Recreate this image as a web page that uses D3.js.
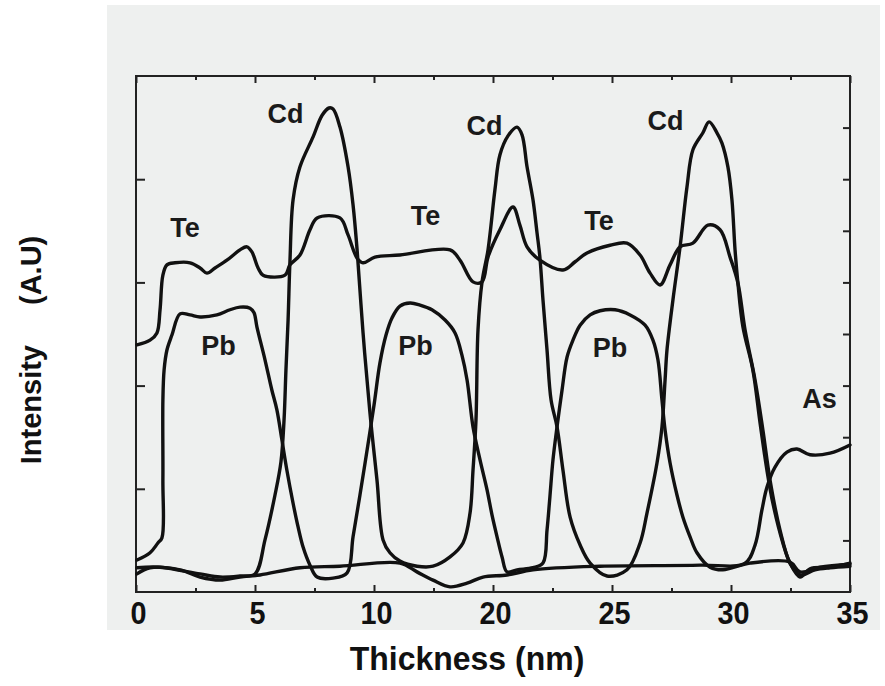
<!DOCTYPE html>
<html>
<head>
<meta charset="utf-8">
<script src="https://cdn.jsdelivr.net/npm/d3@7"></script>
<style>
  html, body { margin: 0; padding: 0; background: #ffffff; }
  svg { display: block; }
</style>
</head>
<body>
<svg id="chart" width="885" height="686"></svg>
<script>
// Depth profile: Thickness (nm) vs intensity (arbitrary units)
const xTickValues = [0, 5, 10, 20, 25, 30, 35];
const xMinorTicks = [2.5, 7.5, 15, 22.5, 27.5, 32.5];
const yLeftTicks = [2, 4, 6, 8];
const yRightTicks = [1, 2, 3, 4, 5, 6, 7, 8, 9];

const teSeries = [[0.04,4.79],[0.59,4.88],[0.88,5.02],[1.01,5.47],[1.13,6.14],[1.30,6.34],[1.64,6.38],[2.27,6.38],[2.69,6.28],[2.98,6.18],[3.32,6.28],[3.82,6.43],[4.37,6.63],[4.66,6.69],[4.87,6.59],[5.13,6.28],[5.34,6.14],[6.26,6.14],[6.47,6.34],[6.89,6.53],[7.31,7.02],[7.61,7.25],[8.57,7.25],[8.91,6.92],[9.29,6.47],[9.54,6.38],[10.08,6.49],[12.18,6.53],[16.39,6.63],[17.23,6.43],[18.32,6.01],[19.08,6.01],[19.58,6.49],[20.29,7.02],[20.84,7.46],[21.13,7.11],[21.43,6.69],[21.97,6.43],[22.94,6.24],[23.45,6.40],[23.95,6.57],[24.92,6.72],[25.63,6.76],[26.18,6.53],[26.60,6.18],[27.02,5.95],[27.44,6.34],[27.86,6.69],[28.40,6.76],[29.03,7.11],[29.54,7.02],[29.96,6.49],[30.29,5.99],[30.59,5.08],[31.01,4.11],[31.34,3.14],[31.64,2.17],[32.06,1.20],[32.48,0.56],[32.90,0.33],[33.53,0.43],[34.16,0.47],[35,0.50]];

const cdSeries = [[0.04,0.47],[1.01,0.48],[2.69,0.35],[3.53,0.29],[4.37,0.31],[5.00,0.35],[5.42,1.01],[5.84,1.88],[6.09,2.52],[6.22,3.33],[6.30,4.30],[6.39,5.27],[6.47,6.43],[6.60,7.60],[6.89,8.24],[7.44,8.82],[7.82,9.24],[8.11,9.38],[8.28,9.36],[8.57,9.01],[8.91,8.24],[9.12,7.50],[9.29,6.63],[9.54,5.02],[9.83,3.47],[10.25,2.17],[10.76,1.01],[11.34,0.76],[12.18,0.60],[13.61,0.50],[14.96,0.50],[16.39,0.68],[17.48,0.95],[18.07,1.53],[18.32,2.36],[18.57,3.33],[18.74,5.08],[19.08,6.01],[19.58,6.63],[20.08,7.79],[20.29,8.47],[20.63,8.84],[21.01,9.01],[21.22,8.86],[21.43,8.24],[21.68,7.60],[21.85,6.96],[21.97,6.49],[22.10,5.66],[22.27,4.69],[22.44,3.72],[22.69,3.20],[22.94,2.36],[23.24,1.45],[23.66,0.91],[24.08,0.56],[24.79,0.31],[25.63,0.43],[26.18,0.95],[26.47,1.53],[26.89,2.50],[27.10,3.20],[27.23,4.11],[27.31,4.69],[27.56,5.66],[27.86,6.69],[28.15,7.85],[28.40,8.57],[28.82,8.90],[29.08,9.11],[29.41,8.90],[29.62,8.70],[29.87,8.24],[30.04,7.60],[30.17,6.63],[30.29,5.99],[30.50,5.14],[30.92,4.30],[31.22,3.28],[31.51,2.36],[31.76,1.72],[32.18,0.95],[32.48,0.56],[32.90,0.29],[33.32,0.45],[34.16,0.48],[35,0.56]];

const pbSeries = [[0.04,0.62],[0.59,0.76],[0.92,0.95],[1.09,1.05],[1.13,2.17],[1.13,3.72],[1.18,4.30],[1.30,4.69],[1.51,4.98],[1.85,5.39],[2.27,5.37],[2.69,5.33],[3.40,5.37],[3.95,5.47],[4.37,5.52],[4.79,5.50],[4.96,5.41],[5.08,5.14],[5.42,4.50],[5.71,3.91],[5.92,3.53],[6.13,2.95],[6.34,2.36],[6.60,1.72],[6.81,1.26],[7.02,0.87],[7.31,0.52],[7.61,0.29],[8.28,0.27],[8.87,0.37],[9.12,1.07],[9.41,1.88],[9.71,2.75],[10.00,3.62],[10.50,4.44],[11.01,4.98],[11.51,5.31],[12.18,5.54],[13.03,5.60],[13.87,5.56],[14.87,5.47],[15.97,5.27],[16.81,5.02],[17.39,4.59],[17.82,4.11],[18.32,3.20],[18.91,2.56],[19.50,1.98],[19.92,1.49],[20.17,1.07],[20.38,0.68],[20.59,0.39],[21.01,0.43],[21.68,0.47],[22.10,0.56],[22.27,1.20],[22.39,1.84],[22.52,2.56],[22.69,3.20],[22.90,3.91],[23.11,4.55],[23.36,4.88],[23.66,5.17],[24.08,5.37],[24.50,5.45],[25.13,5.47],[25.76,5.37],[26.39,5.17],[26.72,4.88],[26.93,4.50],[27.10,3.72],[27.23,3.14],[27.44,2.50],[27.73,1.88],[27.98,1.45],[28.28,1.07],[28.57,0.76],[29.12,0.48],[29.66,0.43],[30.80,0.56],[32.48,0.58],[32.90,0.39],[33.74,0.48],[35,0.54]];

const asSeries = [[0.04,0.35],[0.59,0.47],[1.85,0.43],[2.69,0.29],[3.53,0.23],[4.37,0.29],[5.21,0.33],[6.89,0.47],[8.57,0.50],[12.18,0.56],[13.61,0.39],[14.96,0.23],[16.39,0.10],[17.82,0.17],[19.16,0.29],[20.59,0.33],[21.68,0.43],[24.50,0.50],[28.70,0.52],[30.59,0.56],[31.01,0.91],[31.30,1.59],[31.51,2.03],[31.85,2.42],[32.35,2.71],[32.77,2.77],[33.32,2.66],[34.16,2.69],[35,2.85]];

// Element labels placed in data units (thickness, intensity)
const elementLabels = [
  { text: "Cd", x: 6.28, y: 9.09 },
  { text: "Cd", x: 19.29, y: 8.86 },
  { text: "Cd", x: 27.25, y: 8.95 },
  { text: "Te", x: 2.06, y: 6.88 },
  { text: "Te", x: 14.33, y: 7.11 },
  { text: "Te", x: 24.45, y: 7.02 },
  { text: "Pb", x: 3.47, y: 4.59 },
  { text: "Pb", x: 13.49, y: 4.59 },
  { text: "Pb", x: 24.92, y: 4.55 },
  { text: "As", x: 33.72, y: 3.57 }
];

const svg = d3.select("#chart");
const plot = { left: 136, top: 76, right: 850, bottom: 592 };

// scanned-page panel behind the plot
svg.append("rect").attr("x", 107).attr("y", 5).attr("width", 773).attr("height", 625)
  .attr("fill", "#eef0ef");

// Thickness axis: evenly spaced labelled ticks
const x = d3.scaleLinear()
  .domain(xTickValues)
  .range(xTickValues.map((d, i) => plot.left + i * (plot.right - plot.left) / (xTickValues.length - 1)));
const y = d3.scaleLinear().domain([0, 10]).range([plot.bottom, plot.top]);

const g = svg.append("g");

function styleAxis(sel) {
  sel.select(".domain").remove();
  sel.selectAll(".tick line").attr("stroke", "#222").attr("stroke-width", 2);
}

// bottom axis: major + minor ticks pointing inward, bold numerals
g.append("g").attr("transform", `translate(0,${plot.bottom})`)
  .call(d3.axisBottom(x).tickValues(xTickValues).tickSizeInner(-7).tickSizeOuter(0)
        .tickFormat(d3.format("d")))
  .call(styleAxis)
  .call(s => s.selectAll("text")
    .attr("font-family", "'Liberation Sans', Arial, sans-serif")
    .attr("font-weight", "bold").attr("font-size", 30).attr("fill", "#111")
    .attr("dy", null).attr("y", 0)
    .attr("transform", "translate(2,32) scale(0.96,1.05)"));
g.append("g").attr("transform", `translate(0,${plot.bottom})`)
  .call(d3.axisBottom(x).tickValues(xMinorTicks).tickSizeInner(-4).tickSizeOuter(0).tickFormat(""))
  .call(styleAxis);

// top axis
g.append("g").attr("transform", `translate(0,${plot.top})`)
  .call(d3.axisTop(x).tickValues(xTickValues).tickSizeInner(-7).tickSizeOuter(0).tickFormat(""))
  .call(styleAxis);
g.append("g").attr("transform", `translate(0,${plot.top})`)
  .call(d3.axisTop(x).tickValues(xMinorTicks).tickSizeInner(-4).tickSizeOuter(0).tickFormat(""))
  .call(styleAxis);

// left and right axes
g.append("g").attr("transform", `translate(${plot.left},0)`)
  .call(d3.axisLeft(y).tickValues(yLeftTicks).tickSizeInner(-9).tickSizeOuter(0).tickFormat(""))
  .call(styleAxis);
g.append("g").attr("transform", `translate(${plot.right},0)`)
  .call(d3.axisRight(y).tickValues(yRightTicks).tickSizeInner(-7).tickSizeOuter(0).tickFormat(""))
  .call(styleAxis);

// frame
g.append("rect")
  .attr("x", plot.left).attr("y", plot.top)
  .attr("width", plot.right - plot.left).attr("height", plot.bottom - plot.top)
  .attr("fill", "none").attr("stroke", "#222").attr("stroke-width", 2);

// profiles
const line = d3.line()
  .x(d => x(d[0]))
  .y(d => y(d[1]))
  .curve(d3.curveCatmullRom.alpha(0.5));

const series = [asSeries, pbSeries, teSeries, cdSeries];
g.append("g").selectAll("path").data(series).join("path")
  .attr("d", line)
  .attr("fill", "none")
  .attr("stroke", "#111")
  .attr("stroke-width", 3.4)
  .attr("stroke-linejoin", "round")
  .attr("stroke-linecap", "round");

// element labels
g.append("g").selectAll("text").data(elementLabels).join("text")
  .attr("x", d => x(d.x))
  .attr("y", d => y(d.y))
  .attr("text-anchor", "middle")
  .attr("font-family", "'Liberation Sans', Arial, sans-serif")
  .attr("font-weight", "bold")
  .attr("font-size", 27)
  .attr("fill", "#1a1a1a")
  .text(d => d.text);

// axis titles
svg.append("text")
  .attr("transform", `translate(${(plot.left + plot.right) / 2 - 26},670) scale(0.97,1)`)
  .attr("text-anchor", "middle")
  .attr("font-family", "'Liberation Sans', Arial, sans-serif")
  .attr("font-weight", "bold")
  .attr("font-size", 33)
  .attr("fill", "#111")
  .text("Thickness (nm)");

const yTitle = svg.append("text")
  .attr("transform", "translate(41,350) rotate(-90)")
  .attr("text-anchor", "middle")
  .attr("font-family", "'Liberation Sans', Arial, sans-serif")
  .attr("font-weight", "bold")
  .attr("font-size", 29)
  .attr("fill", "#111");
yTitle.append("tspan").text("Intensity");
yTitle.append("tspan").attr("dx", 40).text("(A.U)");
</script>
</body>
</html>
